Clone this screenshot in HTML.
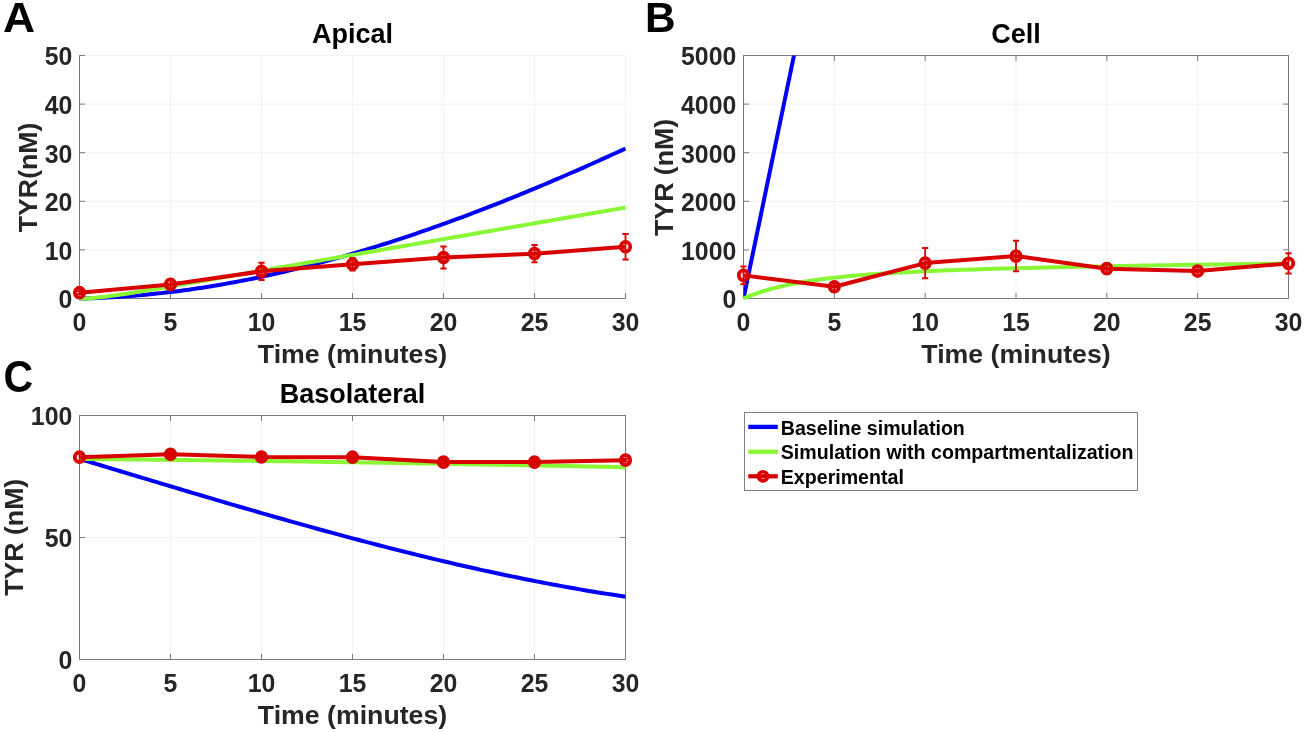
<!DOCTYPE html>
<html><head><meta charset="utf-8"><title>TYR plots</title><style>
html,body{margin:0;padding:0;background:#fff;width:1304px;height:732px;overflow:hidden}
svg{display:block;will-change:transform}
text{font-family:"Liberation Sans", sans-serif;font-weight:bold}
.tk{font-size:24.6px;fill:#262626}
.lb{font-size:26.7px;fill:#262626}
.tt{font-size:27px;fill:#000}
.pl{font-size:42.3px;fill:#000}
.lg{font-size:19.6px;fill:#000}
</style></head><body>
<svg width="1304" height="732" viewBox="0 0 1304 732">
<defs><clipPath id="clipB"><rect x="743.50" y="55.50" width="545.00" height="243.00"/></clipPath></defs>
<rect width="1304" height="732" fill="#fff"/>
<path d="M170.50,55.50 V298.50 M261.50,55.50 V298.50 M352.50,55.50 V298.50 M443.50,55.50 V298.50 M534.50,55.50 V298.50 M625.50,55.50 V298.50 M79.50,249.90 H625.50 M79.50,201.30 H625.50 M79.50,152.70 H625.50 M79.50,104.10 H625.50 M79.50,55.50 H625.50" stroke="#f3f3f3" stroke-width="1.2" fill="none"/>
<path d="M79.50,55.50 V298.50 H625.50 M79.50,298.50 V293.00 M170.50,298.50 V293.00 M261.50,298.50 V293.00 M352.50,298.50 V293.00 M443.50,298.50 V293.00 M534.50,298.50 V293.00 M625.50,298.50 V293.00 M79.50,298.50 H85.00 M79.50,249.90 H85.00 M79.50,201.30 H85.00 M79.50,152.70 H85.00 M79.50,104.10 H85.00 M79.50,55.50 H85.00" stroke="#7a7a7a" stroke-width="1" fill="none"/>
<path d="M834.33,55.50 V298.50 M925.17,55.50 V298.50 M1016.00,55.50 V298.50 M1106.83,55.50 V298.50 M1197.67,55.50 V298.50 M1288.50,55.50 V298.50 M743.50,249.90 H1288.50 M743.50,201.30 H1288.50 M743.50,152.70 H1288.50 M743.50,104.10 H1288.50 M743.50,55.50 H1288.50" stroke="#f3f3f3" stroke-width="1.2" fill="none"/>
<path d="M743.50,55.50 V298.50 H1288.50 M743.50,55.50 H1288.50 V298.50 M743.50,298.50 V293.00 M743.50,55.50 V61.00 M834.33,298.50 V293.00 M834.33,55.50 V61.00 M925.17,298.50 V293.00 M925.17,55.50 V61.00 M1016.00,298.50 V293.00 M1016.00,55.50 V61.00 M1106.83,298.50 V293.00 M1106.83,55.50 V61.00 M1197.67,298.50 V293.00 M1197.67,55.50 V61.00 M1288.50,298.50 V293.00 M1288.50,55.50 V61.00 M743.50,298.50 H749.00 M1288.50,298.50 H1283.00 M743.50,249.90 H749.00 M1288.50,249.90 H1283.00 M743.50,201.30 H749.00 M1288.50,201.30 H1283.00 M743.50,152.70 H749.00 M1288.50,152.70 H1283.00 M743.50,104.10 H749.00 M1288.50,104.10 H1283.00 M743.50,55.50 H749.00 M1288.50,55.50 H1283.00" stroke="#7a7a7a" stroke-width="1" fill="none"/>
<path d="M170.50,415.50 V659.50 M261.50,415.50 V659.50 M352.50,415.50 V659.50 M443.50,415.50 V659.50 M534.50,415.50 V659.50 M625.50,415.50 V659.50 M79.50,537.50 H625.50 M79.50,415.50 H625.50" stroke="#f3f3f3" stroke-width="1.2" fill="none"/>
<path d="M79.50,415.50 V659.50 H625.50 M79.50,415.50 H625.50 V659.50 M79.50,659.50 V654.00 M79.50,415.50 V421.00 M170.50,659.50 V654.00 M170.50,415.50 V421.00 M261.50,659.50 V654.00 M261.50,415.50 V421.00 M352.50,659.50 V654.00 M352.50,415.50 V421.00 M443.50,659.50 V654.00 M443.50,415.50 V421.00 M534.50,659.50 V654.00 M534.50,415.50 V421.00 M625.50,659.50 V654.00 M625.50,415.50 V421.00 M79.50,659.50 H85.00 M625.50,659.50 H620.00 M79.50,537.50 H85.00 M625.50,537.50 H620.00 M79.50,415.50 H85.00 M625.50,415.50 H620.00" stroke="#7a7a7a" stroke-width="1" fill="none"/>
<path d="M79.50,298.50 L84.05,298.40 L88.60,298.28 L93.15,298.14 L97.70,297.97 L102.25,297.78 L106.80,297.56 L111.35,297.32 L115.90,297.05 L120.45,296.76 L125.00,296.45 L129.55,296.11 L134.10,295.75 L138.65,295.37 L143.20,294.97 L147.75,294.54 L152.30,294.09 L156.85,293.61 L161.40,293.12 L165.95,292.60 L170.50,292.06 L175.05,291.49 L179.60,290.91 L184.15,290.30 L188.70,289.67 L193.25,289.03 L197.80,288.35 L202.35,287.66 L206.90,286.95 L211.45,286.21 L216.00,285.46 L220.55,284.68 L225.10,283.88 L229.65,283.07 L234.20,282.23 L238.75,281.37 L243.30,280.49 L247.85,279.59 L252.40,278.68 L256.95,277.74 L261.50,276.78 L266.05,275.80 L270.60,274.81 L275.15,273.79 L279.70,272.76 L284.25,271.71 L288.80,270.63 L293.35,269.54 L297.90,268.43 L302.45,267.31 L307.00,266.16 L311.55,265.00 L316.10,263.82 L320.65,262.62 L325.20,261.40 L329.75,260.16 L334.30,258.91 L338.85,257.64 L343.40,256.35 L347.95,255.05 L352.50,253.73 L357.05,252.39 L361.60,251.04 L366.15,249.67 L370.70,248.28 L375.25,246.88 L379.80,245.46 L384.35,244.02 L388.90,242.57 L393.45,241.10 L398.00,239.62 L402.55,238.12 L407.10,236.61 L411.65,235.08 L416.20,233.54 L420.75,231.98 L425.30,230.41 L429.85,228.82 L434.40,227.22 L438.95,225.60 L443.50,223.97 L448.05,222.32 L452.60,220.66 L457.15,218.99 L461.70,217.30 L466.25,215.60 L470.80,213.89 L475.35,212.16 L479.90,210.42 L484.45,208.67 L489.00,206.90 L493.55,205.12 L498.10,203.33 L502.65,201.52 L507.20,199.71 L511.75,197.88 L516.30,196.04 L520.85,194.18 L525.40,192.32 L529.95,190.44 L534.50,188.55 L539.05,186.65 L543.60,184.74 L548.15,182.82 L552.70,180.88 L557.25,178.94 L561.80,176.98 L566.35,175.02 L570.90,173.04 L575.45,171.05 L580.00,169.06 L584.55,167.05 L589.10,165.03 L593.65,163.00 L598.20,160.97 L602.75,158.92 L607.30,156.86 L611.85,154.80 L616.40,152.72 L620.95,150.64 L625.50,148.54" stroke="#0000f5" stroke-width="4.0" fill="none" stroke-linejoin="round"/>
<path d="M79.50,298.50 L84.05,298.42 L88.60,298.21 L93.15,297.89 L97.70,297.48 L102.25,297.00 L106.80,296.47 L111.35,295.88 L115.90,295.26 L120.45,294.60 L125.00,293.92 L129.55,293.22 L134.10,292.50 L138.65,291.77 L143.20,291.03 L147.75,290.28 L152.30,289.52 L156.85,288.76 L161.40,287.99 L165.95,287.21 L170.50,286.44 L175.05,285.66 L179.60,284.88 L184.15,284.10 L188.70,283.31 L193.25,282.53 L197.80,281.74 L202.35,280.95 L206.90,280.17 L211.45,279.38 L216.00,278.59 L220.55,277.80 L225.10,277.01 L229.65,276.23 L234.20,275.44 L238.75,274.65 L243.30,273.86 L247.85,273.07 L252.40,272.28 L256.95,271.49 L261.50,270.70 L266.05,269.91 L270.60,269.12 L275.15,268.33 L279.70,267.54 L284.25,266.75 L288.80,265.96 L293.35,265.17 L297.90,264.38 L302.45,263.59 L307.00,262.80 L311.55,262.01 L316.10,261.22 L320.65,260.43 L325.20,259.64 L329.75,258.85 L334.30,258.06 L338.85,257.28 L343.40,256.49 L347.95,255.70 L352.50,254.91 L357.05,254.12 L361.60,253.33 L366.15,252.54 L370.70,251.75 L375.25,250.96 L379.80,250.17 L384.35,249.38 L388.90,248.59 L393.45,247.80 L398.00,247.01 L402.55,246.22 L407.10,245.43 L411.65,244.64 L416.20,243.85 L420.75,243.06 L425.30,242.27 L429.85,241.48 L434.40,240.69 L438.95,239.90 L443.50,239.11 L448.05,238.32 L452.60,237.53 L457.15,236.74 L461.70,235.95 L466.25,235.16 L470.80,234.37 L475.35,233.58 L479.90,232.79 L484.45,232.00 L489.00,231.21 L493.55,230.42 L498.10,229.63 L502.65,228.84 L507.20,228.05 L511.75,227.26 L516.30,226.47 L520.85,225.69 L525.40,224.90 L529.95,224.11 L534.50,223.32 L539.05,222.53 L543.60,221.74 L548.15,220.95 L552.70,220.16 L557.25,219.37 L561.80,218.58 L566.35,217.79 L570.90,217.00 L575.45,216.21 L580.00,215.42 L584.55,214.63 L589.10,213.84 L593.65,213.05 L598.20,212.26 L602.75,211.47 L607.30,210.68 L611.85,209.89 L616.40,209.10 L620.95,208.31 L625.50,207.52" stroke="#8af736" stroke-width="4.0" fill="none" stroke-linejoin="round"/>
<path d="M79.50,291.26 V294.17 M170.50,279.55 V289.27 M261.50,262.63 V280.03 M352.50,257.92 V270.56 M443.50,246.50 V268.56 M534.50,245.04 V262.24 M625.50,234.11 V259.38" stroke="#d90000" stroke-width="1.8" fill="none"/>
<path d="M76.40,291.26 H82.60 M76.40,294.17 H82.60 M167.40,279.55 H173.60 M167.40,289.27 H173.60 M258.40,262.63 H264.60 M258.40,280.03 H264.60 M349.40,257.92 H355.60 M349.40,270.56 H355.60 M440.40,246.50 H446.60 M440.40,268.56 H446.60 M531.40,245.04 H537.60 M531.40,262.24 H537.60 M622.40,234.11 H628.60 M622.40,259.38 H628.60" stroke="#d90000" stroke-width="2.0" fill="none"/>
<path d="M79.50,292.72 L170.50,284.41 L261.50,271.33 L352.50,264.24 L443.50,257.53 L534.50,253.64 L625.50,246.74" stroke="#d90000" stroke-width="4.0" fill="none" stroke-linejoin="round"/>
<ellipse cx="79.50" cy="292.72" rx="4.7" ry="4.95" stroke="#d90000" stroke-width="3.8" fill="none"/>
<ellipse cx="170.50" cy="284.41" rx="4.7" ry="4.95" stroke="#d90000" stroke-width="3.8" fill="none"/>
<ellipse cx="261.50" cy="271.33" rx="4.7" ry="4.95" stroke="#d90000" stroke-width="3.8" fill="none"/>
<ellipse cx="352.50" cy="264.24" rx="4.7" ry="4.95" stroke="#d90000" stroke-width="3.8" fill="none"/>
<ellipse cx="443.50" cy="257.53" rx="4.7" ry="4.95" stroke="#d90000" stroke-width="3.8" fill="none"/>
<ellipse cx="534.50" cy="253.64" rx="4.7" ry="4.95" stroke="#d90000" stroke-width="3.8" fill="none"/>
<ellipse cx="625.50" cy="246.74" rx="4.7" ry="4.95" stroke="#d90000" stroke-width="3.8" fill="none"/>
<path d="M743.50,298.50 L752.58,254.76 L761.67,211.02 L770.75,167.28 L779.83,123.54 L788.92,79.80 L798.00,36.06 L807.08,-7.68 L816.17,-51.42 L825.25,-95.16 L834.33,-138.90 L843.42,-182.64 L852.50,-226.38 L861.58,-270.12 L870.67,-313.86 L879.75,-357.60 L888.83,-401.34 L897.92,-445.08 L907.00,-488.82 L916.08,-532.56 L925.17,-576.30 L934.25,-620.04 L943.33,-663.78 L952.42,-707.52 L961.50,-751.26 L970.58,-795.00 L979.67,-838.74 L988.75,-882.48 L997.83,-926.22 L1006.92,-969.96 L1016.00,-1013.70 L1025.08,-1057.44 L1034.17,-1101.18 L1043.25,-1144.92 L1052.33,-1188.66 L1061.42,-1232.40 L1070.50,-1276.14 L1079.58,-1319.88 L1088.67,-1363.62 L1097.75,-1407.36 L1106.83,-1451.10 L1115.92,-1494.84 L1125.00,-1538.58 L1134.08,-1582.32 L1143.17,-1626.06 L1152.25,-1669.80 L1161.33,-1713.54 L1170.42,-1757.28 L1179.50,-1801.02 L1188.58,-1844.76 L1197.67,-1888.50 L1206.75,-1932.24 L1215.83,-1975.98 L1224.92,-2019.72 L1234.00,-2063.46 L1243.08,-2107.20 L1252.17,-2150.94 L1261.25,-2194.68 L1270.33,-2238.42 L1279.42,-2282.16 L1288.50,-2325.90" stroke="#0000f5" stroke-width="4.0" fill="none" stroke-linejoin="round" clip-path="url(#clipB)"/>
<path d="M743.50,298.50 L748.04,296.62 L752.58,294.88 L757.12,293.26 L761.67,291.75 L766.21,290.35 L770.75,289.04 L775.29,287.83 L779.83,286.69 L784.38,285.64 L788.92,284.65 L793.46,283.73 L798.00,282.86 L802.54,282.05 L807.08,281.30 L811.62,280.59 L816.17,279.92 L820.71,279.30 L825.25,278.71 L829.79,278.15 L834.33,277.63 L838.88,277.14 L843.42,276.68 L847.96,276.24 L852.50,275.82 L857.04,275.42 L861.58,275.05 L866.12,274.69 L870.67,274.35 L875.21,274.03 L879.75,273.72 L884.29,273.43 L888.83,273.15 L893.38,272.88 L897.92,272.62 L902.46,272.38 L907.00,272.14 L911.54,271.91 L916.08,271.69 L920.62,271.48 L925.17,271.28 L929.71,271.08 L934.25,270.89 L938.79,270.70 L943.33,270.53 L947.88,270.35 L952.42,270.18 L956.96,270.02 L961.50,269.86 L966.04,269.71 L970.58,269.55 L975.12,269.41 L979.67,269.26 L984.21,269.12 L988.75,268.99 L993.29,268.85 L997.83,268.72 L1002.38,268.60 L1006.92,268.47 L1011.46,268.35 L1016.00,268.23 L1020.54,268.11 L1025.08,267.99 L1029.62,267.88 L1034.17,267.77 L1038.71,267.66 L1043.25,267.55 L1047.79,267.45 L1052.33,267.34 L1056.88,267.24 L1061.42,267.14 L1065.96,267.04 L1070.50,266.94 L1075.04,266.85 L1079.58,266.75 L1084.12,266.66 L1088.67,266.57 L1093.21,266.48 L1097.75,266.39 L1102.29,266.30 L1106.83,266.22 L1111.38,266.13 L1115.92,266.05 L1120.46,265.97 L1125.00,265.88 L1129.54,265.80 L1134.08,265.73 L1138.62,265.65 L1143.17,265.57 L1147.71,265.49 L1152.25,265.42 L1156.79,265.35 L1161.33,265.27 L1165.88,265.20 L1170.42,265.13 L1174.96,265.06 L1179.50,264.99 L1184.04,264.92 L1188.58,264.85 L1193.12,264.79 L1197.67,264.72 L1202.21,264.66 L1206.75,264.59 L1211.29,264.53 L1215.83,264.47 L1220.38,264.41 L1224.92,264.35 L1229.46,264.29 L1234.00,264.23 L1238.54,264.17 L1243.08,264.11 L1247.62,264.05 L1252.17,264.00 L1256.71,263.94 L1261.25,263.89 L1265.79,263.83 L1270.33,263.78 L1274.88,263.73 L1279.42,263.67 L1283.96,263.62 L1288.50,263.57" stroke="#8af736" stroke-width="4.0" fill="none" stroke-linejoin="round"/>
<path d="M743.50,266.52 V284.21 M834.33,281.88 V291.60 M925.17,248.00 V278.14 M1016.00,240.81 V271.33 M1106.83,263.46 V273.86 M1197.67,266.18 V275.90 M1288.50,253.35 V273.47" stroke="#d90000" stroke-width="1.8" fill="none"/>
<path d="M740.40,266.52 H746.60 M740.40,284.21 H746.60 M831.23,281.88 H837.43 M831.23,291.60 H837.43 M922.07,248.00 H928.27 M922.07,278.14 H928.27 M1012.90,240.81 H1019.10 M1012.90,271.33 H1019.10 M1103.73,263.46 H1109.93 M1103.73,273.86 H1109.93 M1194.57,266.18 H1200.77 M1194.57,275.90 H1200.77 M1285.40,253.35 H1291.60 M1285.40,273.47 H1291.60" stroke="#d90000" stroke-width="2.0" fill="none"/>
<path d="M743.50,275.37 L834.33,286.74 L925.17,263.07 L1016.00,256.07 L1106.83,268.66 L1197.67,271.04 L1288.50,263.41" stroke="#d90000" stroke-width="4.0" fill="none" stroke-linejoin="round"/>
<ellipse cx="743.50" cy="275.37" rx="4.7" ry="4.95" stroke="#d90000" stroke-width="3.8" fill="none"/>
<ellipse cx="834.33" cy="286.74" rx="4.7" ry="4.95" stroke="#d90000" stroke-width="3.8" fill="none"/>
<ellipse cx="925.17" cy="263.07" rx="4.7" ry="4.95" stroke="#d90000" stroke-width="3.8" fill="none"/>
<ellipse cx="1016.00" cy="256.07" rx="4.7" ry="4.95" stroke="#d90000" stroke-width="3.8" fill="none"/>
<ellipse cx="1106.83" cy="268.66" rx="4.7" ry="4.95" stroke="#d90000" stroke-width="3.8" fill="none"/>
<ellipse cx="1197.67" cy="271.04" rx="4.7" ry="4.95" stroke="#d90000" stroke-width="3.8" fill="none"/>
<ellipse cx="1288.50" cy="263.41" rx="4.7" ry="4.95" stroke="#d90000" stroke-width="3.8" fill="none"/>
<path d="M79.50,458.87 L84.05,460.24 L88.60,461.61 L93.15,462.99 L97.70,464.36 L102.25,465.73 L106.80,467.11 L111.35,468.48 L115.90,469.85 L120.45,471.23 L125.00,472.60 L129.55,473.97 L134.10,475.34 L138.65,476.71 L143.20,478.08 L147.75,479.45 L152.30,480.82 L156.85,482.19 L161.40,483.55 L165.95,484.92 L170.50,486.28 L175.05,487.64 L179.60,489.00 L184.15,490.35 L188.70,491.71 L193.25,493.06 L197.80,494.41 L202.35,495.76 L206.90,497.11 L211.45,498.45 L216.00,499.80 L220.55,501.13 L225.10,502.47 L229.65,503.80 L234.20,505.13 L238.75,506.46 L243.30,507.79 L247.85,509.11 L252.40,510.42 L256.95,511.74 L261.50,513.05 L266.05,514.35 L270.60,515.66 L275.15,516.96 L279.70,518.25 L284.25,519.54 L288.80,520.83 L293.35,522.11 L297.90,523.39 L302.45,524.66 L307.00,525.93 L311.55,527.19 L316.10,528.45 L320.65,529.70 L325.20,530.95 L329.75,532.19 L334.30,533.43 L338.85,534.66 L343.40,535.89 L347.95,537.11 L352.50,538.32 L357.05,539.53 L361.60,540.74 L366.15,541.93 L370.70,543.13 L375.25,544.31 L379.80,545.49 L384.35,546.66 L388.90,547.83 L393.45,548.98 L398.00,550.14 L402.55,551.28 L407.10,552.42 L411.65,553.55 L416.20,554.67 L420.75,555.79 L425.30,556.90 L429.85,558.00 L434.40,559.09 L438.95,560.18 L443.50,561.25 L448.05,562.32 L452.60,563.38 L457.15,564.44 L461.70,565.48 L466.25,566.52 L470.80,567.55 L475.35,568.57 L479.90,569.58 L484.45,570.58 L489.00,571.57 L493.55,572.56 L498.10,573.53 L502.65,574.49 L507.20,575.45 L511.75,576.40 L516.30,577.33 L520.85,578.26 L525.40,579.18 L529.95,580.08 L534.50,580.98 L539.05,581.87 L543.60,582.75 L548.15,583.61 L552.70,584.47 L557.25,585.31 L561.80,586.15 L566.35,586.97 L570.90,587.79 L575.45,588.59 L580.00,589.38 L584.55,590.16 L589.10,590.93 L593.65,591.68 L598.20,592.43 L602.75,593.16 L607.30,593.89 L611.85,594.60 L616.40,595.29 L620.95,595.98 L625.50,596.66" stroke="#0000f5" stroke-width="4.0" fill="none" stroke-linejoin="round"/>
<path d="M79.50,458.93 L84.05,458.97 L88.60,459.02 L93.15,459.06 L97.70,459.11 L102.25,459.15 L106.80,459.20 L111.35,459.24 L115.90,459.29 L120.45,459.33 L125.00,459.38 L129.55,459.43 L134.10,459.48 L138.65,459.52 L143.20,459.57 L147.75,459.62 L152.30,459.67 L156.85,459.72 L161.40,459.77 L165.95,459.82 L170.50,459.87 L175.05,459.93 L179.60,459.98 L184.15,460.03 L188.70,460.08 L193.25,460.14 L197.80,460.19 L202.35,460.25 L206.90,460.30 L211.45,460.36 L216.00,460.41 L220.55,460.47 L225.10,460.52 L229.65,460.58 L234.20,460.64 L238.75,460.70 L243.30,460.76 L247.85,460.81 L252.40,460.87 L256.95,460.93 L261.50,460.99 L266.05,461.05 L270.60,461.12 L275.15,461.18 L279.70,461.24 L284.25,461.30 L288.80,461.36 L293.35,461.43 L297.90,461.49 L302.45,461.56 L307.00,461.62 L311.55,461.68 L316.10,461.75 L320.65,461.82 L325.20,461.88 L329.75,461.95 L334.30,462.02 L338.85,462.08 L343.40,462.15 L347.95,462.22 L352.50,462.29 L357.05,462.36 L361.60,462.43 L366.15,462.50 L370.70,462.57 L375.25,462.64 L379.80,462.71 L384.35,462.79 L388.90,462.86 L393.45,462.93 L398.00,463.00 L402.55,463.08 L407.10,463.15 L411.65,463.23 L416.20,463.30 L420.75,463.38 L425.30,463.45 L429.85,463.53 L434.40,463.61 L438.95,463.69 L443.50,463.76 L448.05,463.84 L452.60,463.92 L457.15,464.00 L461.70,464.08 L466.25,464.16 L470.80,464.24 L475.35,464.32 L479.90,464.40 L484.45,464.48 L489.00,464.57 L493.55,464.65 L498.10,464.73 L502.65,464.82 L507.20,464.90 L511.75,464.98 L516.30,465.07 L520.85,465.15 L525.40,465.24 L529.95,465.33 L534.50,465.41 L539.05,465.50 L543.60,465.59 L548.15,465.68 L552.70,465.76 L557.25,465.85 L561.80,465.94 L566.35,466.03 L570.90,466.12 L575.45,466.21 L580.00,466.30 L584.55,466.40 L589.10,466.49 L593.65,466.58 L598.20,466.67 L602.75,466.77 L607.30,466.86 L611.85,466.95 L616.40,467.05 L620.95,467.14 L625.50,467.24" stroke="#8af736" stroke-width="4.0" fill="none" stroke-linejoin="round"/>
<path d="M79.50,453.32 V461.13 M170.50,451.86 V456.74 M261.50,454.54 V459.42 M352.50,454.78 V459.66 M443.50,459.66 V464.54 M534.50,459.66 V464.54 M625.50,458.69 V461.62" stroke="#d90000" stroke-width="1.8" fill="none"/>
<path d="M76.40,453.32 H82.60 M76.40,461.13 H82.60 M167.40,451.86 H173.60 M167.40,456.74 H173.60 M258.40,454.54 H264.60 M258.40,459.42 H264.60 M349.40,454.78 H355.60 M349.40,459.66 H355.60 M440.40,459.66 H446.60 M440.40,464.54 H446.60 M531.40,459.66 H537.60 M531.40,464.54 H537.60 M622.40,458.69 H628.60 M622.40,461.62 H628.60" stroke="#d90000" stroke-width="2.0" fill="none"/>
<path d="M79.50,457.22 L170.50,454.30 L261.50,456.98 L352.50,457.22 L443.50,462.10 L534.50,462.10 L625.50,460.15" stroke="#d90000" stroke-width="4.0" fill="none" stroke-linejoin="round"/>
<ellipse cx="79.50" cy="457.22" rx="4.7" ry="4.95" stroke="#d90000" stroke-width="3.8" fill="none"/>
<ellipse cx="170.50" cy="454.30" rx="4.7" ry="4.95" stroke="#d90000" stroke-width="3.8" fill="none"/>
<ellipse cx="261.50" cy="456.98" rx="4.7" ry="4.95" stroke="#d90000" stroke-width="3.8" fill="none"/>
<ellipse cx="352.50" cy="457.22" rx="4.7" ry="4.95" stroke="#d90000" stroke-width="3.8" fill="none"/>
<ellipse cx="443.50" cy="462.10" rx="4.7" ry="4.95" stroke="#d90000" stroke-width="3.8" fill="none"/>
<ellipse cx="534.50" cy="462.10" rx="4.7" ry="4.95" stroke="#d90000" stroke-width="3.8" fill="none"/>
<ellipse cx="625.50" cy="460.15" rx="4.7" ry="4.95" stroke="#d90000" stroke-width="3.8" fill="none"/>
<text transform="translate(72.30,308.40) scale(1.01,1.04)" text-anchor="end" class="tk">0</text>
<text transform="translate(72.30,259.80) scale(1.01,1.04)" text-anchor="end" class="tk">10</text>
<text transform="translate(72.30,211.20) scale(1.01,1.04)" text-anchor="end" class="tk">20</text>
<text transform="translate(72.30,162.60) scale(1.01,1.04)" text-anchor="end" class="tk">30</text>
<text transform="translate(72.30,114.00) scale(1.01,1.04)" text-anchor="end" class="tk">40</text>
<text transform="translate(72.30,65.40) scale(1.01,1.04)" text-anchor="end" class="tk">50</text>
<text transform="translate(79.50,330.60) scale(1.01,1.04)" text-anchor="middle" class="tk">0</text>
<text transform="translate(170.50,330.60) scale(1.01,1.04)" text-anchor="middle" class="tk">5</text>
<text transform="translate(261.50,330.60) scale(1.01,1.04)" text-anchor="middle" class="tk">10</text>
<text transform="translate(352.50,330.60) scale(1.01,1.04)" text-anchor="middle" class="tk">15</text>
<text transform="translate(443.50,330.60) scale(1.01,1.04)" text-anchor="middle" class="tk">20</text>
<text transform="translate(534.50,330.60) scale(1.01,1.04)" text-anchor="middle" class="tk">25</text>
<text transform="translate(625.50,330.60) scale(1.01,1.04)" text-anchor="middle" class="tk">30</text>
<text x="352.50" y="362.80" text-anchor="middle" class="lb">Time (minutes)</text>
<text x="352.50" y="43.20" text-anchor="middle" class="tt">Apical</text>
<text transform="translate(36.50,177.40) rotate(-90)" x="0" y="0" text-anchor="middle" class="lb">TYR(nM)</text>
<text transform="translate(736.30,308.40) scale(1.01,1.04)" text-anchor="end" class="tk">0</text>
<text transform="translate(736.30,259.80) scale(1.01,1.04)" text-anchor="end" class="tk">1000</text>
<text transform="translate(736.30,211.20) scale(1.01,1.04)" text-anchor="end" class="tk">2000</text>
<text transform="translate(736.30,162.60) scale(1.01,1.04)" text-anchor="end" class="tk">3000</text>
<text transform="translate(736.30,114.00) scale(1.01,1.04)" text-anchor="end" class="tk">4000</text>
<text transform="translate(736.30,65.40) scale(1.01,1.04)" text-anchor="end" class="tk">5000</text>
<text transform="translate(743.50,330.60) scale(1.01,1.04)" text-anchor="middle" class="tk">0</text>
<text transform="translate(834.33,330.60) scale(1.01,1.04)" text-anchor="middle" class="tk">5</text>
<text transform="translate(925.17,330.60) scale(1.01,1.04)" text-anchor="middle" class="tk">10</text>
<text transform="translate(1016.00,330.60) scale(1.01,1.04)" text-anchor="middle" class="tk">15</text>
<text transform="translate(1106.83,330.60) scale(1.01,1.04)" text-anchor="middle" class="tk">20</text>
<text transform="translate(1197.67,330.60) scale(1.01,1.04)" text-anchor="middle" class="tk">25</text>
<text transform="translate(1288.50,330.60) scale(1.01,1.04)" text-anchor="middle" class="tk">30</text>
<text x="1016.00" y="362.80" text-anchor="middle" class="lb">Time (minutes)</text>
<text x="1016.00" y="43.20" text-anchor="middle" class="tt">Cell</text>
<text transform="translate(673.30,177.40) rotate(-90)" x="0" y="0" text-anchor="middle" class="lb">TYR (nM)</text>
<text transform="translate(72.30,669.40) scale(1.01,1.04)" text-anchor="end" class="tk">0</text>
<text transform="translate(72.30,547.40) scale(1.01,1.04)" text-anchor="end" class="tk">50</text>
<text transform="translate(72.30,425.40) scale(1.01,1.04)" text-anchor="end" class="tk">100</text>
<text transform="translate(79.50,691.60) scale(1.01,1.04)" text-anchor="middle" class="tk">0</text>
<text transform="translate(170.50,691.60) scale(1.01,1.04)" text-anchor="middle" class="tk">5</text>
<text transform="translate(261.50,691.60) scale(1.01,1.04)" text-anchor="middle" class="tk">10</text>
<text transform="translate(352.50,691.60) scale(1.01,1.04)" text-anchor="middle" class="tk">15</text>
<text transform="translate(443.50,691.60) scale(1.01,1.04)" text-anchor="middle" class="tk">20</text>
<text transform="translate(534.50,691.60) scale(1.01,1.04)" text-anchor="middle" class="tk">25</text>
<text transform="translate(625.50,691.60) scale(1.01,1.04)" text-anchor="middle" class="tk">30</text>
<text x="352.50" y="723.80" text-anchor="middle" class="lb">Time (minutes)</text>
<text x="352.50" y="403.20" text-anchor="middle" class="tt">Basolateral</text>
<text transform="translate(23.20,537.30) rotate(-90)" x="0" y="0" text-anchor="middle" class="lb">TYR (nM)</text>
<text transform="translate(3.0,32.2) scale(1.05,1.02)" class="pl">A</text>
<text x="645" y="32" class="pl">B</text>
<text transform="translate(3.6,391.5) scale(0.97,1.05)" class="pl">C</text>
<rect x="744.5" y="412.5" width="393" height="78" fill="#fff" stroke="#808080" stroke-width="1"/>
<path d="M748.3,426.9 H777.8" stroke="#0000f5" stroke-width="4.3"/>
<path d="M748.3,451.7 H777.8" stroke="#8af736" stroke-width="4.3"/>
<path d="M748.3,476.3 H777.8" stroke="#d90000" stroke-width="4.3"/>
<circle cx="763" cy="476.3" r="4.6" stroke="#d90000" stroke-width="3.6" fill="none"/>
<text x="780.8" y="434.6" class="lg">Baseline simulation</text>
<text x="780.8" y="459.3" class="lg">Simulation with compartmentalization</text>
<text x="780.8" y="484.0" class="lg">Experimental</text>
</svg>
</body></html>
